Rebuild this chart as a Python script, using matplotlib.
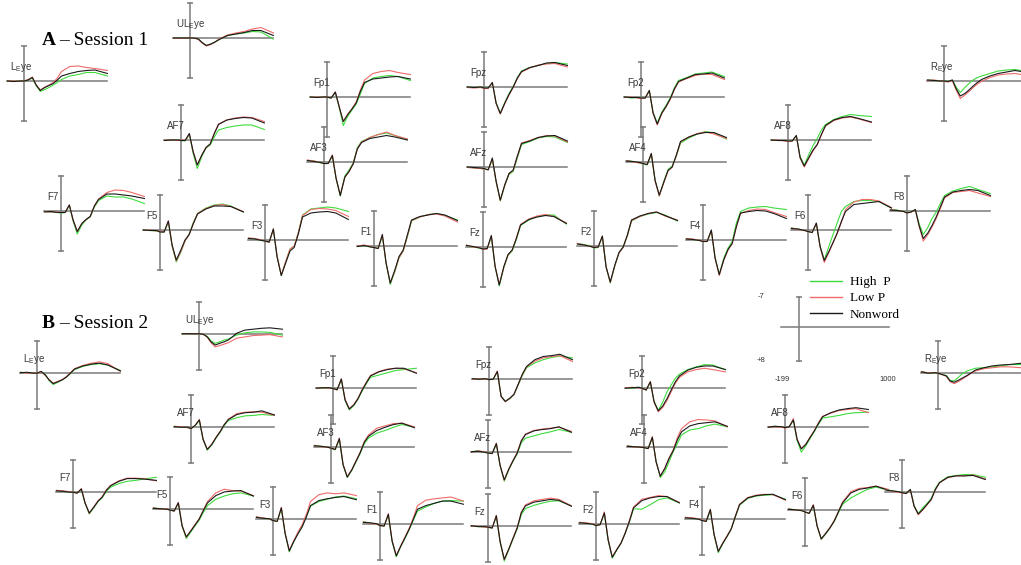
import matplotlib
matplotlib.use('Agg')
import matplotlib.pyplot as plt
from matplotlib.lines import Line2D

W, H = 1021, 565

# tiempos de muestreo (ms)
times = [-199, -120, -40, 0, 50, 100, 145, 195, 250, 300, 350, 400, 450, 550, 650, 750, 850, 1000]

channels = ['LEye', 'ULEye', 'REye', 'Fp1', 'Fpz', 'Fp2', 'AF7', 'AF3', 'AFz', 'AF4', 'AF8',
            'F7', 'F5', 'F3', 'F1', 'Fz', 'F2', 'F4', 'F6', 'F8']
channel_labels = [r'L$_\mathregular{E}$ye', r'UL$_\mathregular{E}$ye', r'R$_\mathregular{E}$ye',
                  'Fp1', 'Fpz', 'Fp2', 'AF7', 'AF3', 'AFz', 'AF4', 'AF8',
                  'F7', 'F5', 'F3', 'F1', 'Fz', 'F2', 'F4', 'F6', 'F8']
conditions = ['High  P', 'Low P', 'Nonword']

# amplitudes en microvoltios (positivo hacia abajo), una fila por canal
s1_high = [
    [0, 0.1, 0, 0, -0.2, -0.6, 0.9, 2.1, 1.7, 1.3, 0.8, 0.3, -0.3, -1.0, -1.3, -1.7, -1.7, -1.0],
    [0, 0, 0.1, 0, 0, 0.2, 0.9, 1.5, 1.2, 0.8, 0.3, -0.1, -0.5, -0.8, -1.0, -1.3, -1.2, 0.2],
    [-0.2, -0.1, 0, 0, 0.1, -0.2, 1.2, 2.3, 1.3, 0.5, -0.2, -0.7, -1.0, -1.5, -2.0, -2.2, -2.3, -1.9],
    [0, 0.1, 0, 0.1, 0.2, -0.9, 2.0, 5.7, 3.8, 2.6, 1.4, -0.6, -2.7, -3.8, -4.1, -4.3, -4.1, -3.3],
    [0, 0.1, 0, 0.2, 0.2, -0.8, 3.2, 5.2, 3.1, 1.3, -0.1, -1.9, -3.2, -3.9, -4.3, -4.7, -4.9, -4.6],
    [0, 0.2, 0.1, 0.2, 0.2, -1.2, 3.1, 5.2, 3.0, 1.7, 0.2, -1.8, -3.3, -3.9, -4.6, -4.8, -5.0, -4.1],
    [0, 0.1, 0, 0.1, 0.2, -1.1, 2.6, 5.7, 3.3, 1.6, 1.0, -0.6, -2.0, -2.5, -2.8, -3.0, -3.0, -2.1],
    [-0.3, -0.2, 0.2, 0.3, 0.3, -1.2, 3.3, 6.8, 2.8, 1.6, 0.2, -2.9, -4.1, -4.9, -5.5, -5.8, -5.3, -4.5],
    [0, 0.2, 0.3, 0.4, 0.5, -1.5, 3.0, 6.8, 3.7, 1.5, 0.9, -1.8, -4.5, -5.1, -5.8, -6.1, -6.0, -4.9],
    [-0.3, -0.1, 0.2, 0.4, 0.6, -1.5, 3.6, 6.8, 3.9, 1.5, 0.8, -1.2, -3.8, -4.8, -5.6, -6.1, -5.8, -4.6],
    [0, 0.1, 0.1, 0.2, 0.2, -0.9, 3.3, 5.0, 2.9, 1.1, -0.3, -2.0, -3.1, -4.1, -4.7, -5.1, -4.9, -4.7],
    [0.1, 0.2, 0.3, 0.4, 0.3, -1.1, 2.0, 4.6, 2.8, 1.8, 1.2, -0.8, -2.1, -3.0, -2.8, -2.8, -2.4, -1.5],
    [0, 0.1, 0.2, 0.4, 0.4, -1.6, 3.2, 6.4, 4.4, 2.2, 0.8, -1.5, -3.3, -4.4, -5.0, -5.2, -4.8, -3.6],
    [-0.4, -0.2, 0.1, 0.2, 0.5, -2.1, 3.3, 7.1, 4.3, 1.8, 1.2, -1.5, -5.0, -6.2, -6.4, -6.6, -6.4, -5.7],
    [0.1, -0.1, 0.2, 0.3, 0.5, -2.0, 3.5, 7.7, 5.1, 2.4, 1.0, -1.8, -5.0, -5.8, -6.3, -6.5, -6.1, -5.2],
    [-0.3, 0, 0.2, 0.5, 0.3, -2.0, 3.9, 7.8, 4.1, 1.7, 0.8, -1.5, -4.3, -5.4, -6.1, -6.4, -6.4, -4.6],
    [-0.5, -0.3, 0, 0.4, 0.3, -1.8, 4.2, 7.4, 4.0, 1.3, 0.2, -2.0, -5.0, -5.9, -6.4, -6.7, -6.2, -5.0],
    [-0.3, -0.1, 0.1, 0.3, 0.3, -1.8, 3.5, 6.9, 3.6, 1.6, 0.3, -3.4, -5.7, -6.4, -6.6, -6.7, -6.4, -6.1],
    [-0.4, -0.2, 0.1, 0.3, 0.5, -1.2, 3.2, 6.0, 3.3, 0.9, -1.4, -3.7, -4.7, -5.7, -5.9, -5.9, -5.7, -4.4],
    [-0.3, -0.2, 0.1, 0.3, 0.2, -0.3, 2.5, 4.7, 3.3, 1.5, 0.2, -1.5, -3.1, -4.0, -4.5, -4.9, -4.3, -3.5],
]
s1_low = [
    [0, 0, 0.1, 0, -0.3, -0.8, 0.7, 1.8, 1.2, 0.8, 0.3, -0.6, -1.9, -2.9, -3.0, -2.7, -2.5, -2.1],
    [0, 0.1, 0, 0, 0, 0.3, 1.0, 1.6, 1.3, 0.8, 0.2, -0.2, -0.6, -1.0, -1.3, -1.8, -2.1, -1.0],
    [-0.1, -0.2, 0, 0.1, 0.2, -0.1, 1.8, 3.5, 2.8, 2.1, 1.3, 0.6, 0.1, -0.7, -1.2, -1.4, -1.5, -1.1],
    [0.1, 0, 0.1, 0, 0.2, -1.0, 1.8, 4.9, 3.4, 2.3, 1.0, -1.4, -3.4, -4.7, -5.1, -5.3, -4.9, -4.5],
    [0.1, 0.2, 0.1, 0.3, 0.3, -0.9, 3.3, 5.4, 3.3, 1.6, 0.1, -1.7, -3.0, -3.8, -4.4, -4.6, -4.7, -4.0],
    [0.1, 0, 0.2, 0.3, 0.2, -1.3, 3.3, 5.6, 3.3, 2.0, 0.5, -1.5, -3.0, -3.7, -4.3, -4.6, -4.5, -3.5],
    [0, 0, 0.1, 0, 0.1, -1.2, 2.3, 5.0, 3.0, 1.5, 0.8, -1.4, -3.2, -4.0, -4.4, -4.6, -4.5, -3.7],
    [-0.4, -0.2, 0.1, 0.3, 0.3, -1.4, 3.2, 6.6, 3.1, 1.9, 0.3, -2.7, -4.0, -4.9, -5.5, -6.0, -5.3, -4.6],
    [0.1, 0.2, 0.3, 0.4, 0.5, -1.6, 2.9, 6.7, 3.6, 1.3, 0.7, -2.1, -4.8, -5.3, -5.9, -6.3, -6.2, -5.0],
    [-0.3, 0, 0.2, 0.3, 0.5, -1.7, 3.8, 6.8, 4.1, 1.8, 1.0, -1.3, -4.0, -5.0, -5.7, -6.0, -5.6, -4.7],
    [0.1, 0, 0.2, 0.3, 0.2, -0.8, 3.6, 5.4, 3.7, 2.2, 1.0, -1.0, -2.8, -3.9, -4.4, -4.6, -4.2, -3.5],
    [0.1, 0.2, 0.2, 0.3, 0.3, -1.2, 1.8, 4.1, 2.5, 1.7, 1.1, -1.0, -2.4, -3.7, -4.2, -4.1, -3.7, -2.9],
    [0.1, 0, 0.2, 0.3, 0.4, -1.8, 3.1, 6.2, 4.3, 2.2, 0.9, -1.3, -3.3, -4.3, -4.9, -5.1, -4.7, -3.7],
    [-0.4, -0.3, 0, 0.2, 0.5, -2.2, 3.2, 7.0, 4.2, 1.8, 1.2, -1.5, -4.9, -6.1, -6.3, -6.2, -5.9, -4.7],
    [0, -0.2, 0.1, 0.3, 0.5, -2.2, 3.4, 7.4, 5.0, 2.3, 1.0, -2.0, -5.1, -5.8, -6.3, -6.4, -6.0, -4.8],
    [-0.4, 0, 0.1, 0.5, 0.4, -2.2, 3.8, 7.5, 4.0, 1.6, 0.6, -1.8, -4.5, -5.6, -6.2, -6.5, -6.1, -4.8],
    [-0.5, -0.2, 0.1, 0.3, 0.2, -1.9, 4.1, 7.3, 3.9, 1.4, 0.3, -2.1, -5.1, -5.9, -6.5, -6.8, -6.0, -5.2],
    [-0.3, -0.2, 0.1, 0.2, 0.3, -1.9, 3.7, 7.1, 4.0, 2.0, 0.7, -2.6, -5.3, -5.9, -6.2, -6.1, -5.5, -4.7],
    [-0.4, -0.1, 0.1, 0.3, 0.5, -1.3, 3.4, 6.5, 4.5, 2.6, 0.7, -1.5, -4.1, -5.6, -6.1, -6.1, -5.8, -4.5],
    [-0.3, -0.1, 0.1, 0.4, 0.2, -0.2, 3.0, 6.0, 4.7, 3.2, 1.5, -0.5, -2.6, -3.7, -3.9, -4.1, -3.6, -2.9],
]
s1_non = [
    [0, 0.1, 0, 0, -0.2, -0.7, 0.8, 1.9, 1.3, 0.9, 0.5, -0.2, -1.0, -1.5, -1.9, -2.1, -2.2, -1.5],
    [0, 0, 0, 0, 0, 0.2, 0.9, 1.5, 1.2, 0.8, 0.3, -0.1, -0.5, -0.8, -1.1, -1.5, -1.5, -0.5],
    [-0.2, -0.1, 0, 0, 0.1, -0.2, 1.5, 3.0, 2.5, 1.8, 1.0, 0.3, -0.3, -1.0, -1.5, -1.8, -2.1, -1.7],
    [0, 0.1, 0, 0, 0.2, -1.0, 1.9, 4.9, 3.5, 2.4, 1.2, -1.1, -2.9, -3.6, -3.8, -4.0, -4.1, -3.6],
    [0, 0.1, 0, 0.2, 0.2, -0.9, 3.2, 5.3, 3.2, 1.5, 0, -1.8, -3.1, -3.9, -4.3, -4.8, -4.9, -4.3],
    [0, 0.1, 0.1, 0.2, 0.2, -1.3, 3.2, 5.4, 3.2, 1.9, 0.4, -1.6, -3.1, -3.8, -4.5, -4.6, -4.8, -3.8],
    [0.1, 0, 0, 0.1, 0.1, -1.3, 2.3, 5.0, 3.0, 1.5, 0.8, -1.3, -3.1, -4.0, -4.3, -4.5, -4.4, -3.4],
    [-0.3, -0.1, 0.1, 0.3, 0.3, -1.3, 3.3, 6.7, 3.0, 1.9, 0.4, -2.6, -3.9, -4.7, -5.0, -5.3, -5.0, -4.4],
    [0, 0.1, 0.2, 0.3, 0.6, -1.8, 2.8, 6.6, 3.5, 1.3, 0.6, -2.2, -4.7, -5.2, -5.9, -6.2, -6.3, -5.2],
    [-0.2, -0.1, 0.1, 0.3, 0.5, -1.7, 3.7, 6.6, 4.0, 1.7, 1.0, -1.4, -4.1, -5.0, -5.6, -5.9, -5.9, -4.9],
    [0, 0.1, 0.1, 0.2, 0.2, -0.9, 3.5, 5.2, 3.5, 2.0, 0.9, -1.1, -2.9, -4.0, -4.5, -4.7, -4.3, -3.6],
    [0.2, 0.1, 0.3, 0.3, 0.3, -1.2, 1.8, 4.1, 2.5, 1.7, 1.1, -1.0, -2.3, -3.4, -3.4, -3.2, -3.0, -2.5],
    [0, 0.1, 0.1, 0.4, 0.4, -1.8, 3.0, 6.0, 4.0, 2.0, 0.9, -1.3, -3.2, -4.2, -4.8, -4.8, -4.7, -3.6],
    [-0.3, -0.2, 0.1, 0.2, 0.4, -2.2, 3.4, 7.1, 4.5, 2.2, 1.5, -1.2, -4.6, -5.4, -5.6, -5.7, -5.4, -4.1],
    [0.1, -0.1, 0.2, 0.3, 0.5, -2.3, 3.4, 7.4, 4.8, 2.1, 0.8, -2.2, -5.2, -5.9, -6.2, -6.5, -6.2, -5.1],
    [-0.3, -0.1, 0.2, 0.4, 0.3, -2.3, 3.9, 7.6, 3.9, 1.5, 0.6, -1.7, -4.4, -5.5, -6.0, -6.3, -6.1, -4.7],
    [-0.4, -0.2, 0.1, 0.3, 0.2, -2.0, 4.2, 7.2, 3.8, 1.3, 0.2, -2.2, -5.2, -6.0, -6.5, -6.8, -6.1, -5.1],
    [-0.2, -0.1, 0.1, 0.3, 0.3, -2.0, 3.6, 6.9, 3.9, 1.9, 0.7, -2.7, -5.4, -5.7, -5.9, -5.8, -5.3, -4.3],
    [-0.3, -0.2, 0.1, 0.3, 0.5, -1.4, 3.3, 6.1, 4.3, 2.5, 0.6, -1.7, -3.7, -5.1, -5.3, -5.5, -5.7, -4.4],
    [-0.2, -0.1, 0.1, 0.4, 0.2, -0.3, 2.9, 5.5, 4.4, 2.9, 1.2, -0.8, -2.8, -3.8, -4.1, -4.3, -4.1, -3.1],
]

s2_high = [
    [-0.1, 0, 0.1, 0.1, -0.2, 0.4, 1.7, 2.6, 2.1, 1.6, 1.0, 0.2, -0.7, -1.4, -1.8, -2.0, -1.7, -0.5],
    [0, 0, 0, 0, 0.1, 0.6, 1.6, 2.1, 1.8, 1.4, 1.2, 0.7, 0.3, -0.2, -0.4, -0.4, -0.3, 0.3],
    [-0.2, 0, 0.1, 0.1, 0.4, 0.6, 1.7, 1.8, 0.9, 0.1, -0.4, -0.7, -1.0, -1.1, -1.3, -1.5, -1.8, -1.8],
    [0, 0.1, 0, 0.2, 0.5, -1.8, 2.8, 4.9, 3.9, 2.5, 0.7, -0.9, -2.3, -2.8, -3.3, -3.8, -4.0, -4.3],
    [0, 0.1, 0, 0.2, 0.1, -1.5, 3.8, 5.0, 4.4, 3.5, 1.4, -0.7, -2.4, -3.5, -4.2, -4.7, -5.0, -4.6],
    [0, 0.1, -0.1, 0.1, 0.5, -1.2, 3.0, 5.0, 3.1, 0.9, -0.6, -2.1, -3.0, -4.0, -4.6, -5.1, -5.0, -4.0],
    [-0.1, 0.1, 0.2, 0.4, -0.2, -1.4, 2.9, 5.2, 4.0, 2.5, 1.2, -0.3, -1.4, -2.0, -2.4, -2.5, -2.7, -2.5],
    [-0.3, -0.1, 0.1, 0.3, 0.7, -1.6, 4.0, 6.8, 5.2, 3.3, 1.5, -0.7, -1.9, -3.0, -3.6, -4.3, -4.9, -4.3],
    [0, -0.2, 0.1, 0.3, 0.4, -1.6, 3.1, 6.5, 4.0, 2.1, 0.5, -2.0, -3.0, -3.5, -4.0, -4.4, -4.9, -4.3],
    [-0.2, 0, 0.1, 0.2, 0.4, -1.9, 3.2, 6.8, 5.5, 3.3, 1.1, -0.7, -2.6, -3.7, -4.0, -4.6, -5.0, -4.4],
    [0, -0.1, 0.1, 0.2, 0, -1.4, 3.0, 5.6, 4.2, 2.6, 1.1, -0.5, -1.9, -2.2, -2.5, -2.9, -3.1, -3.2],
    [-0.3, -0.1, 0.1, 0.1, 0.3, -0.5, 2.6, 4.9, 3.5, 2.2, 1.3, -0.1, -1.0, -1.8, -2.3, -2.5, -2.8, -3.2],
    [-0.2, 0, 0.1, 0.3, 0.5, -1.2, 3.8, 6.6, 5.1, 3.8, 2.5, 0.8, -0.7, -2.1, -2.8, -3.3, -3.5, -2.8],
    [-0.4, -0.1, 0.1, 0.4, 0.6, -2.2, 3.3, 7.3, 5.0, 3.2, 1.6, -0.6, -2.8, -3.8, -4.3, -4.8, -5.0, -4.4],
    [-0.4, -0.2, 0.1, 0.4, 0.5, -1.9, 3.9, 7.3, 5.0, 3.2, 1.3, -0.8, -2.8, -3.7, -4.5, -5.0, -5.1, -5.0],
    [0, 0.2, 0.2, 0.4, 0.5, -2.0, 3.6, 7.8, 5.3, 2.9, 0.7, -2.5, -3.8, -4.5, -5.0, -5.4, -5.5, -4.4],
    [-0.3, -0.1, 0.1, 0.4, 0.2, -2.2, 3.6, 7.6, 5.8, 4.3, 2.1, -0.4, -3.3, -3.2, -4.2, -5.3, -5.7, -4.6],
    [-0.3, -0.1, 0.1, 0.3, 0.6, -1.8, 3.6, 7.5, 5.5, 3.9, 2.2, -0.4, -3.0, -4.5, -5.0, -5.2, -5.3, -4.3],
    [-0.2, 0, 0.2, 0.5, 0.8, -0.9, 3.6, 6.6, 5.3, 4.0, 2.6, 0.7, -1.2, -2.6, -3.6, -4.5, -5.0, -4.3],
    [-0.5, -0.2, 0, 0.2, 0.4, -0.5, 3.0, 4.8, 3.5, 2.6, 1.5, -0.7, -2.1, -3.3, -3.6, -3.8, -3.8, -3.2],
]
s2_low = [
    [-0.1, 0.1, 0, 0.1, -0.2, 0.6, 1.5, 2.3, 1.9, 1.5, 0.9, 0, -0.9, -1.6, -2.1, -2.4, -2.0, -0.3],
    [0, 0, 0, 0, 0.1, 0.8, 2.0, 2.9, 2.6, 2.3, 2.0, 1.5, 1.0, 0.7, 0.4, 0.3, 0.2, 0.7],
    [-0.2, 0, 0, 0.1, 0.4, 0.8, 2.0, 2.4, 1.9, 1.3, 0.7, 0.1, -0.4, -0.9, -1.1, -1.3, -1.3, -1.1],
    [0, 0, 0.1, 0.2, 0.5, -2.0, 2.6, 4.6, 3.7, 2.3, 0.4, -1.2, -2.7, -3.6, -4.1, -4.3, -4.2, -3.3],
    [0.1, 0, 0.1, 0.2, 0.1, -1.7, 3.9, 5.1, 4.3, 3.5, 1.3, -0.9, -2.6, -3.9, -4.6, -4.9, -5.1, -3.8],
    [0, -0.1, 0, 0.2, 0.5, -1.4, 3.2, 5.3, 4.3, 2.8, 0.9, -1.0, -2.3, -3.5, -4.0, -4.3, -4.0, -3.5],
    [-0.1, 0, 0.2, 0.4, -0.3, -1.6, 2.7, 5.0, 3.8, 2.3, 1.0, -0.5, -1.7, -2.9, -3.2, -3.3, -3.2, -2.5],
    [-0.3, 0, 0.1, 0.3, 0.6, -1.9, 3.9, 6.6, 5.0, 3.1, 1.2, -1.2, -2.6, -4.1, -4.6, -5.1, -5.2, -4.4],
    [0.1, -0.2, 0, 0.3, 0.4, -1.9, 3.0, 6.3, 3.8, 1.9, 0.2, -2.5, -3.9, -4.7, -5.0, -5.2, -5.4, -4.5],
    [-0.2, 0.1, 0, 0.2, 0.4, -2.2, 3.4, 6.5, 4.7, 2.5, 0.7, -2.0, -4.0, -5.5, -6.0, -5.9, -5.7, -4.4],
    [0, 0, 0.1, 0.3, 0.1, -1.8, 2.7, 4.8, 3.8, 2.3, 0.9, -0.8, -2.3, -3.0, -3.6, -3.8, -4.0, -3.1],
    [-0.3, -0.2, 0, 0.1, 0.3, -0.7, 2.4, 4.8, 3.3, 2.0, 1.1, -0.4, -1.4, -2.4, -3.0, -3.0, -2.9, -2.4],
    [-0.2, 0.1, 0, 0.3, 0.5, -1.4, 3.7, 6.3, 4.8, 3.5, 2.2, 0.3, -1.6, -3.5, -4.3, -4.0, -3.9, -2.9],
    [-0.4, -0.2, 0.1, 0.4, 0.6, -2.5, 3.1, 7.0, 4.8, 2.9, 1.3, -1.0, -3.8, -5.3, -5.7, -5.5, -5.7, -5.1],
    [-0.4, -0.1, 0.1, 0.4, 0.5, -2.2, 3.7, 7.0, 4.8, 2.9, 1.0, -1.3, -4.0, -5.2, -5.5, -5.7, -5.9, -5.0],
    [0.1, 0.1, 0.3, 0.3, 0.5, -2.3, 3.4, 7.5, 5.1, 2.7, 0.4, -3.0, -4.6, -5.5, -5.8, -6.1, -5.8, -4.4],
    [-0.3, -0.2, 0, 0.4, 0.2, -2.6, 3.4, 7.3, 5.6, 4.2, 2.0, -0.7, -3.7, -5.4, -5.8, -6.2, -6.0, -4.7],
    [-0.3, -0.2, 0, 0.3, 0.5, -2.1, 3.4, 7.2, 5.3, 3.8, 2.2, -0.6, -3.2, -4.7, -5.2, -5.4, -5.3, -4.1],
    [-0.2, 0.1, 0.1, 0.5, 0.8, -1.1, 3.5, 6.5, 5.1, 3.9, 2.4, 0.4, -1.7, -4.0, -4.7, -4.9, -5.2, -4.5],
    [-0.5, -0.1, 0.1, 0.3, 0.4, -0.4, 3.2, 5.1, 4.0, 2.9, 1.8, -0.4, -2.0, -3.1, -3.5, -3.5, -3.7, -2.8],
]
s2_non = [
    [0, -0.1, 0.1, 0.1, -0.3, 0.5, 1.6, 2.4, 2.0, 1.6, 1.0, 0.1, -0.8, -1.5, -1.9, -2.1, -1.7, -0.4],
    [0, 0, 0, 0, 0.1, 0.7, 1.8, 2.5, 2.1, 1.8, 1.4, 0.7, -0.1, -0.8, -1.0, -1.2, -1.3, -1.0],
    [-0.2, 0.1, 0, 0.1, 0.4, 0.7, 1.8, 2.1, 1.6, 1.1, 0.6, 0, -0.6, -1.1, -1.5, -1.7, -1.8, -2.1],
    [0.1, 0, 0, 0.2, 0.4, -1.9, 2.7, 4.7, 3.8, 2.4, 0.5, -1.1, -2.6, -3.5, -4.0, -4.3, -4.3, -3.2],
    [0, 0.1, 0, 0.2, 0.1, -1.6, 3.9, 5.0, 4.3, 3.4, 1.2, -1.0, -2.7, -4.2, -4.9, -5.1, -5.4, -4.2],
    [0.1, 0, -0.1, 0.1, 0.5, -1.3, 3.1, 5.1, 4.0, 2.4, 0.5, -1.3, -2.6, -3.9, -4.5, -4.8, -4.8, -4.0],
    [0, 0.1, 0.1, 0.4, -0.3, -1.5, 2.8, 5.0, 3.9, 2.4, 1.1, -0.5, -1.6, -2.7, -3.1, -3.2, -3.5, -2.6],
    [-0.2, -0.1, 0.1, 0.3, 0.6, -1.8, 4.0, 6.7, 5.1, 3.2, 1.3, -1.0, -2.3, -3.6, -4.3, -4.9, -5.2, -4.2],
    [0, -0.1, 0.1, 0.3, 0.4, -1.8, 3.0, 6.2, 3.8, 2.0, 0.3, -2.4, -3.8, -4.6, -4.9, -5.1, -5.5, -4.3],
    [-0.1, 0, 0.1, 0.2, 0.4, -2.1, 3.3, 6.5, 4.8, 2.6, 0.9, -1.5, -3.3, -4.6, -5.1, -5.3, -5.5, -4.5],
    [0.1, -0.1, 0, 0.2, 0, -1.5, 2.8, 4.9, 3.9, 2.4, 1.0, -0.7, -2.2, -3.1, -3.7, -4.0, -4.2, -3.8],
    [-0.2, -0.1, 0.1, 0.1, 0.3, -0.6, 2.5, 4.7, 3.4, 2.1, 1.2, -0.3, -1.3, -2.3, -2.9, -2.9, -2.8, -2.5],
    [-0.1, 0, 0.1, 0.3, 0.5, -1.3, 3.8, 6.2, 4.9, 3.6, 2.3, 0.4, -1.3, -2.9, -3.7, -3.9, -4.0, -2.8],
    [-0.3, -0.1, 0, 0.4, 0.6, -2.4, 3.2, 7.1, 5.0, 3.3, 1.8, -0.4, -2.9, -4.0, -4.4, -4.7, -4.9, -4.2],
    [-0.3, -0.2, 0, 0.4, 0.5, -2.1, 3.8, 7.1, 4.9, 3.1, 1.2, -1.0, -3.2, -4.0, -4.5, -5.0, -5.0, -4.3],
    [0, 0.2, 0.2, 0.3, 0.5, -2.2, 3.5, 7.4, 5.1, 2.8, 0.5, -2.9, -4.4, -5.2, -5.5, -5.8, -5.6, -4.3],
    [-0.2, -0.1, 0.1, 0.4, 0.2, -2.4, 3.5, 7.4, 5.7, 4.3, 2.1, -0.5, -3.5, -5.1, -5.7, -6.0, -6.0, -4.6],
    [-0.2, -0.1, 0.1, 0.4, 0.6, -2.0, 3.5, 7.2, 5.4, 3.9, 2.3, -0.5, -3.1, -4.6, -5.1, -5.3, -5.4, -4.2],
    [-0.1, 0, 0.2, 0.5, 0.8, -1.0, 3.6, 6.4, 5.2, 4.0, 2.5, 0.5, -1.5, -3.7, -4.5, -4.8, -5.2, -4.3],
    [-0.4, -0.2, 0, 0.2, 0.4, -0.5, 3.2, 4.9, 3.9, 2.8, 1.7, -0.5, -2.0, -3.2, -3.5, -3.5, -3.6, -2.7],
]

# posicion de cada panel en pixeles: (x del tiempo 0, y de la linea base)
pos1 = [(24, 81), (190, 38), (944, 81), (327, 97), (484, 87), (641, 97), (181, 140), (324, 162),
        (484, 167), (643, 162), (788, 140), (61, 211), (160, 230), (265, 240), (374, 246),
        (483, 247), (594, 246), (703, 240), (808, 230), (907, 211)]
pos2 = [(37, 373), (199, 334), (938, 373), (333, 388), (489, 379), (642, 388), (191, 427), (331, 447),
        (488, 452), (644, 447), (785, 427), (73, 492), (170, 509), (273, 519), (380, 524),
        (488, 526), (596, 524), (702, 519), (805, 510), (902, 492)]

colors = ['#3ddc3d', '#f06a6a', '#1a1a1a']
grey = '#7a7a7a'


def panel(fig, x0, y0, up, down, width=100):
    # eje de un electrodo: -199..1000 ms, -7 arriba, +8 abajo
    left = x0 - 199 * width / 1199
    ax = fig.add_axes([left / W, 1 - (y0 + down) / H, width / W, (up + down) / H])
    ax.set_xlim(-199, 1000)
    ax.set_ylim(8, -7)
    ax.axis('off')
    ax.plot([-199, 1000], [0, 0], color=grey, lw=1.1, clip_on=False, zorder=1)
    ax.plot([0, 0], [-7, 8], color=grey, lw=1.1, marker='_', ms=5, mew=1.1,
            clip_on=False, zorder=1)
    return ax


fig = plt.figure(figsize=(W / 100, H / 100), dpi=100)

sessions = [(pos1, [s1_high, s1_low, s1_non], 35, 40),
            (pos2, [s2_high, s2_low, s2_non], 32, 36)]
for pos, series, up, down in sessions:
    for i, name in enumerate(channels):
        x0, y0 = pos[i]
        ax = panel(fig, x0, y0, up, down)
        for k in range(3):
            ax.plot(times, series[k][i], color=colors[k], lw=0.8, clip_on=False, zorder=2 + k)
        px_uv = (up + down) / 15
        ax.text(-14 * 1199 / 100, -14 / px_uv, channel_labels[i], ha='left', va='center',
                fontsize=7, color='#3a3a3a', family='Liberation Sans', zorder=6)

# barra de escala
sc = fig.add_axes([781 / W, 1 - 361 / H, 108 / W, 64 / H])
sc.set_xlim(-199, 1000)
sc.set_ylim(8, -7)
sc.axis('off')
sc.plot([-199, 1000], [0, 0], color=grey, lw=1.1, clip_on=False)
sc.plot([0, 0], [-7, 8], color=grey, lw=1.1, marker='_', ms=5, mew=1.1, clip_on=False)
kw = dict(fontsize=5.5, color='#333333', family='Liberation Sans', ha='center', va='center')
sc.text(-422, -7, '-7', **kw)
sc.text(-422, 8, '+8', **kw)
sc.text(-189, 12.4, '-199', **kw)
sc.text(988, 12.4, '1000', **kw)

# titulos
fig.text(42 / W, 1 - 45 / H, 'A', fontsize=14, fontweight='bold', family='Liberation Serif',
         va='baseline')
fig.text(59 / W, 1 - 45 / H, '\u2013 Session 1', fontsize=14, family='Liberation Serif',
         va='baseline')
fig.text(42 / W, 1 - 328 / H, 'B', fontsize=14, fontweight='bold', family='Liberation Serif',
         va='baseline')
fig.text(59 / W, 1 - 328 / H, '\u2013 Session 2', fontsize=14, family='Liberation Serif',
         va='baseline')

fig.legend(handles=[Line2D([], [], color=c, lw=1.0) for c in colors], labels=conditions,
           loc='upper left', bbox_to_anchor=(810 / W, 1 - 276 / H), frameon=False,
           borderaxespad=0, borderpad=0, handlelength=2.4, handletextpad=0.6,
           labelspacing=0.3, prop={'family': 'Liberation Serif', 'size': 9.5})

fig.savefig('out.png', dpi=100)
